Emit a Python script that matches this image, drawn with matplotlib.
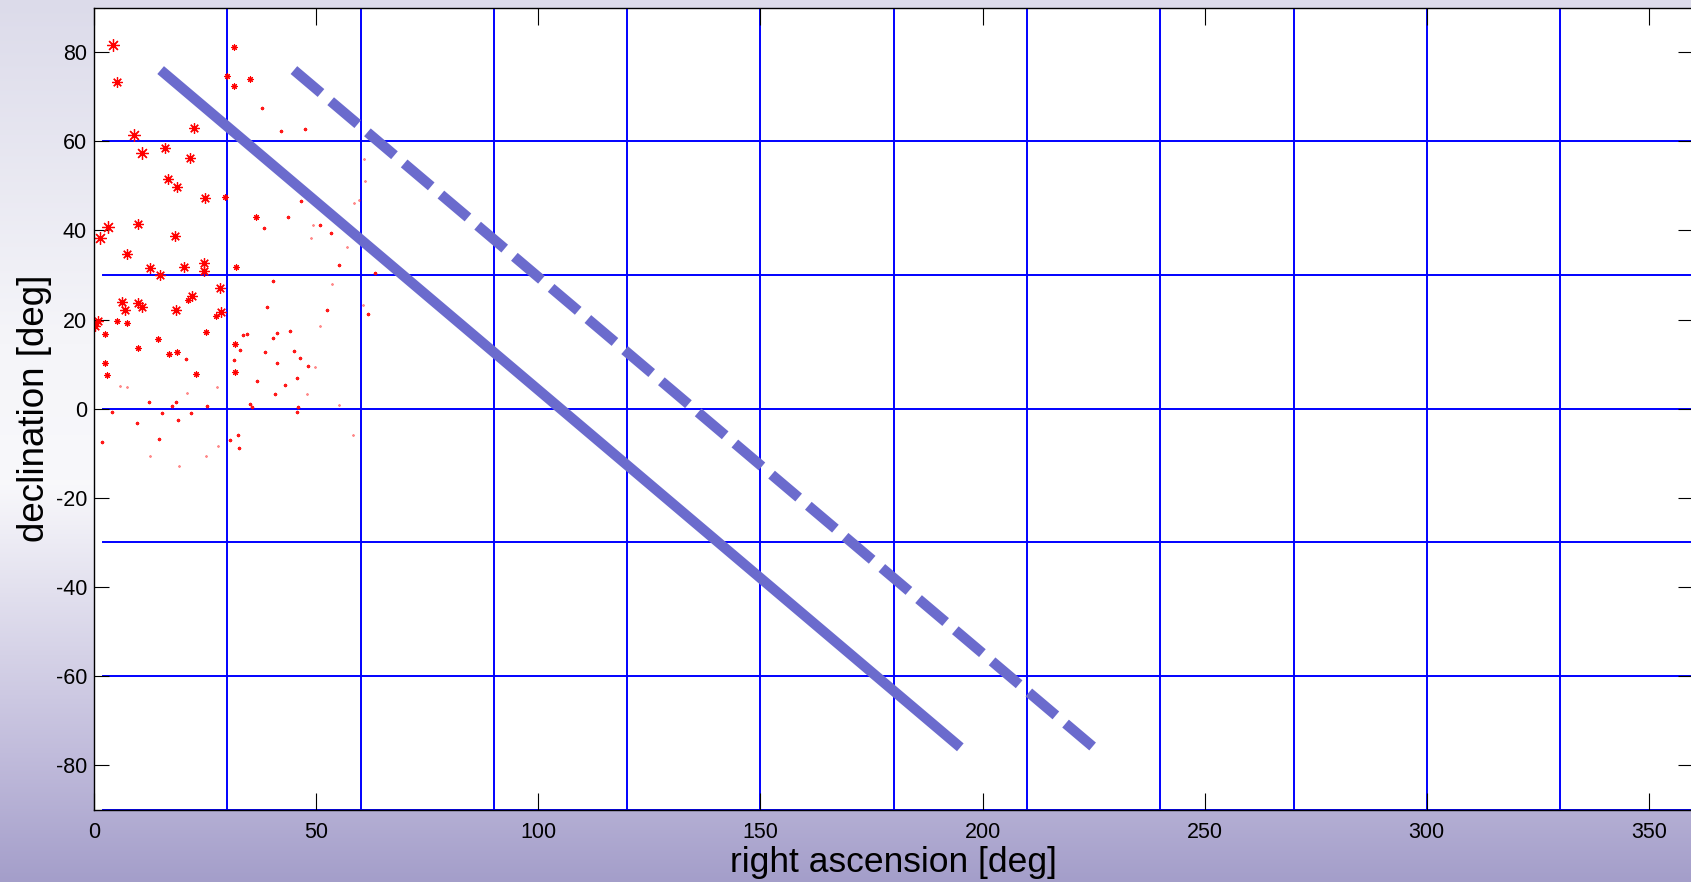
import numpy as np
import matplotlib.pyplot as plt

plt.rcParams['font.family'] = ['Liberation Sans', 'DejaVu Sans']
plt.rcParams['axes.unicode_minus'] = False

# star positions [deg] and brightness class (1 = brightest, 5 = faintest)
star_ra = [4.3, 5.1, 8.9, 10.7, 16.0, 22.5, 21.5, 16.7, 18.7, 25.0,
           3.2, 1.3, 9.8, 18.2, 7.5, 29.5, 31.5, 30.0, 31.5, 35.1,
           37.9, 42.0, 47.5, 60.8, 61.0, 59.7, 58.5, 46.6, 36.4, 43.6,
           38.3, 50.9, 49.4, 53.3, 48.8, 57.0, 12.6, 20.3, 24.8, 24.8,
           14.9, 31.9, 28.4, 6.2, 10.0, 10.9, 22.1, 21.1, 7.0, 18.5,
           28.6, 27.5, 1.0, 0.2, 5.1, 7.4, 2.5, 14.5, 25.2, 10.0,
           16.9, 18.7, 20.7, 2.5, 22.9, 2.9, 31.7, 31.5, 31.7, 5.9,
           7.4, 12.4, 18.5, 17.5, 25.4, 20.9, 4.0, 15.2, 21.8, 9.6,
           18.8, 1.7, 14.6, 12.6, 19.1, 25.2, 28.0, 32.5, 30.6, 32.6,
           27.6, 55.1, 40.4, 53.6, 63.2, 61.6, 38.9, 52.4, 50.9, 33.6,
           34.4, 41.3, 44.1, 40.4, 32.9, 38.6, 45.0, 46.4, 41.3, 48.1,
           49.7, 45.6, 36.8, 43.1, 40.7, 47.9, 35.1, 35.6, 46.0, 45.6,
           55.2, 60.6, 58.4]
star_dec = [81.6, 73.4, 61.4, 57.3, 58.5, 62.9, 56.2, 51.5, 49.7, 47.4,
            40.7, 38.2, 41.4, 38.8, 34.7, 47.6, 81.1, 74.7, 72.4, 74.0,
            67.4, 62.3, 62.8, 56.0, 51.1, 46.8, 46.1, 46.7, 43.1, 43.1,
            40.5, 41.2, 41.2, 39.4, 38.2, 36.4, 31.5, 31.7, 32.6, 30.9,
            30.0, 31.9, 27.2, 24.0, 23.7, 22.8, 25.4, 24.4, 22.2, 22.2,
            21.6, 20.7, 19.7, 18.6, 19.7, 19.3, 16.7, 15.6, 17.3, 13.6,
            12.2, 12.8, 11.1, 10.2, 7.9, 7.6, 14.5, 10.9, 8.2, 5.2,
            4.9, 1.6, 1.4, 0.6, 0.6, 3.5, -0.7, -0.9, -0.9, -3.3,
            -2.5, -7.5, -6.9, -10.6, -12.9, -10.6, -8.4, -5.8, -7.0, -8.9,
            4.9, 32.3, 28.7, 27.9, 30.5, 21.2, 22.9, 22.2, 18.6, 16.5,
            16.7, 16.9, 17.5, 15.9, 13.2, 12.7, 13.0, 11.3, 10.2, 9.6,
            9.4, 7.0, 6.2, 5.4, 3.4, 3.2, 1.0, 0.4, 0.4, -0.7,
            0.8, 23.3, -5.9]
star_class = [1, 2, 1, 1, 2, 2, 2, 2, 2, 2,
              1, 1, 2, 2, 2, 3, 3, 3, 3, 3,
              4, 4, 4, 5, 5, 5, 5, 4, 3, 4,
              4, 4, 5, 4, 5, 5, 2, 2, 2, 2,
              2, 3, 2, 2, 2, 2, 2, 3, 2, 2,
              2, 3, 2, 2, 3, 3, 3, 3, 3, 3,
              3, 3, 4, 3, 3, 3, 3, 4, 3, 5,
              5, 4, 4, 4, 4, 5, 4, 4, 4, 4,
              4, 4, 4, 5, 5, 5, 5, 4, 4, 4,
              5, 4, 4, 5, 4, 4, 4, 4, 5, 4,
              4, 4, 4, 4, 4, 4, 4, 4, 4, 4,
              5, 4, 4, 4, 4, 5, 4, 4, 4, 4,
              5, 5, 5]

# two satellite ground tracks
track_ra = [15, 195]
track_dec = [76, -76]
track2_ra = [45, 225]
track2_dec = [76, -76]

# coordinate grid
ra_lines = [30, 60, 90, 120, 150, 180, 210, 240, 270, 300, 330]
dec_lines = [-90, -60, -30, 0, 30, 60]

x_ticks = [0, 50, 100, 150, 200, 250, 300, 350]
y_ticks = [-80, -60, -40, -20, 0, 20, 40, 60, 80]

fig = plt.figure(figsize=(16.91, 8.82), dpi=100)

# shaded backdrop
bg = fig.add_axes([0, 0, 1, 1], zorder=-10)
yy = np.linspace(0, 1, 400)
stops = [0.0, 0.14, 0.45, 0.62, 1.0]
cols = np.array([[0.643, 0.620, 0.792],
                 [0.753, 0.733, 0.859],
                 [0.973, 0.973, 0.984],
                 [0.960, 0.960, 0.976],
                 [0.863, 0.859, 0.918]])
grad = np.stack([np.interp(yy, stops, cols[:, k]) for k in range(3)], axis=-1)
bg.imshow(grad[:, None, :], aspect='auto', origin='lower', extent=[0, 1, 0, 1])
bg.set_axis_off()

ax = fig.add_axes([0.05559, 0.08197, 0.9458, 0.9093])
ax.set_facecolor('white')

for r in ra_lines:
    ax.plot([r, r], [-90, 89.5], color='#0000ff', lw=1.4, zorder=1)
for d in dec_lines:
    ax.plot([2, 360], [d, d], color='#0000ff', lw=1.4, zorder=1)

ms = {1: 9.0, 2: 7.5, 3: 4.5, 4: 2.4, 5: 1.5}
mew = {1: 0.9, 2: 0.9, 3: 0.8, 4: 0.8, 5: 0.8}
alpha = {1: 1.0, 2: 1.0, 3: 1.0, 4: 0.9, 5: 0.45}
ra = np.array(star_ra)
dec = np.array(star_dec)
cls = np.array(star_class)
for c in [1, 2, 3, 4, 5]:
    sel = cls == c
    ax.plot(ra[sel], dec[sel], linestyle='none', marker=(8, 2, 0),
            ms=ms[c], mec='#ff0000', mew=mew[c], alpha=alpha[c], zorder=2)

track_color = '#6b6bcd'
ax.plot(track_ra, track_dec, color=track_color, lw=7.4,
        solid_capstyle='butt', zorder=3)
ax.plot(track2_ra, track2_dec, color=track_color, lw=7.4,
        dashes=(3.45, 1.235), dash_capstyle='butt', zorder=3)

ax.set_xlim(0, 360)
ax.set_ylim(-90, 90)
ax.set_xticks(x_ticks)
ax.set_yticks(y_ticks)
ax.tick_params(direction='in', top=True, right=True, labelsize=15.5,
               width=0.8, color='black')
ax.tick_params(axis='x', length=12, pad=9)
ax.tick_params(axis='y', length=11, pad=5)
for s in ax.spines.values():
    s.set_color('black')
    s.set_linewidth(1.0)

ax.set_xlabel('right ascension [deg]', fontsize=25.5, labelpad=2)
ax.set_ylabel('declination [deg]', fontsize=26.5, labelpad=3)

fig.savefig('out.png', dpi=100)
